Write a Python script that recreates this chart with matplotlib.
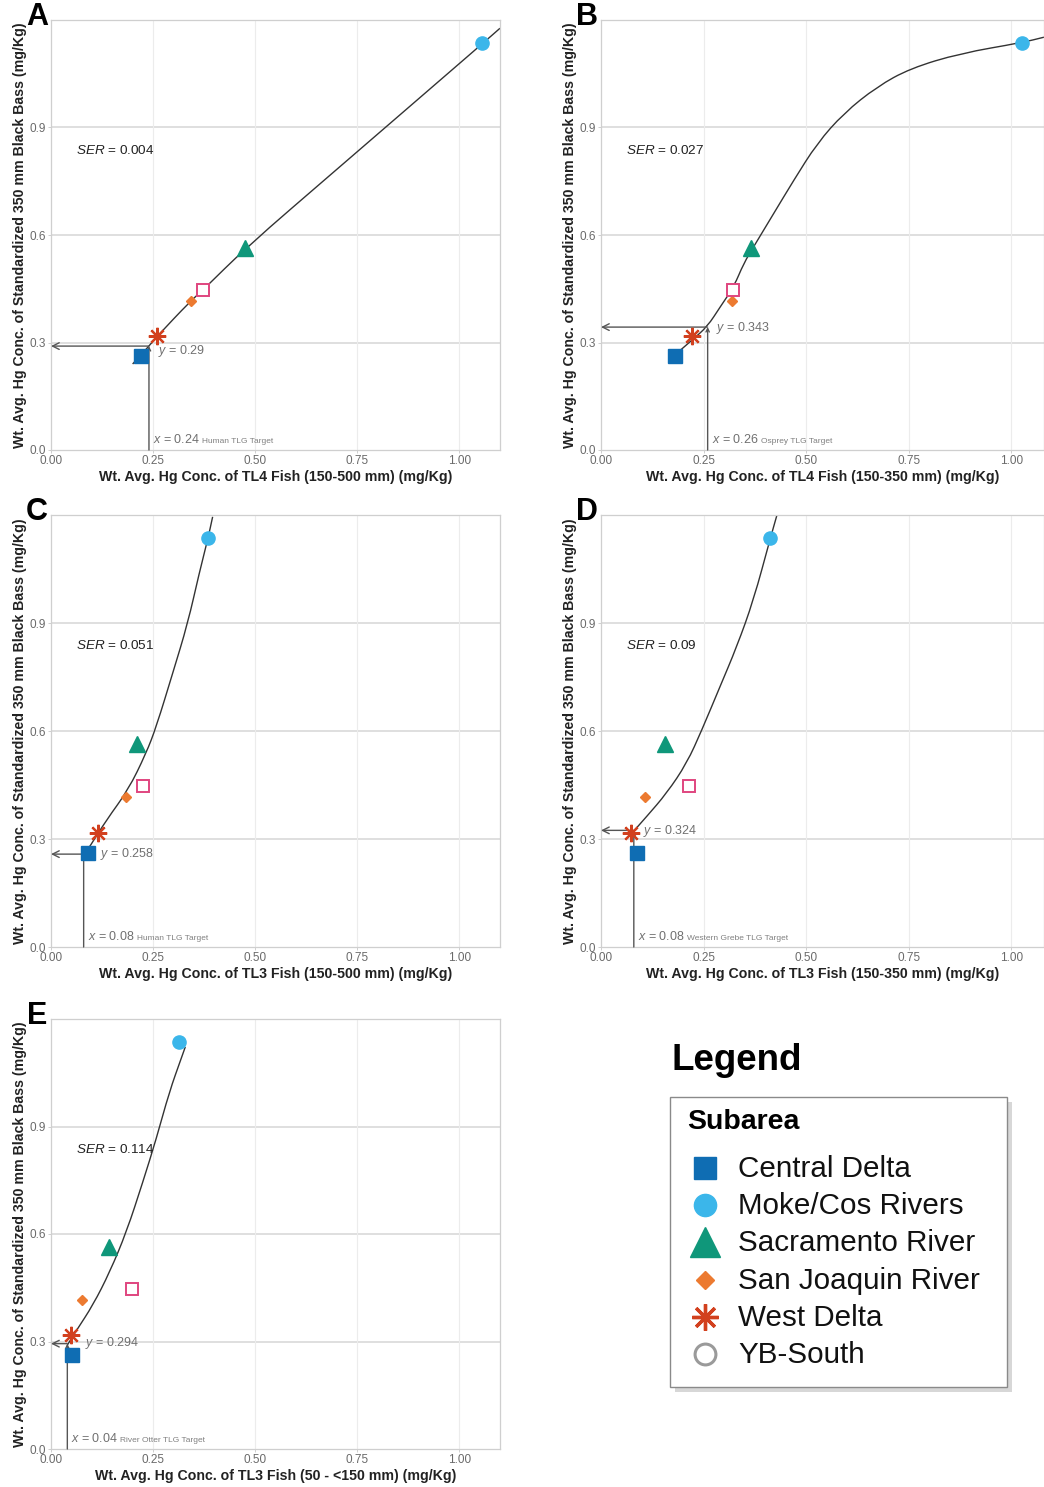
import numpy as np
import matplotlib
matplotlib.use("Agg")
import matplotlib.pyplot as plt
from matplotlib.patches import Rectangle, PathPatch
from matplotlib.path import Path

plt.rcParams['font.family'] = ['Liberation Sans', 'DejaVu Sans']
plt.rcParams['mathtext.fontset'] = 'custom'
plt.rcParams['mathtext.rm'] = 'Liberation Sans'
plt.rcParams['mathtext.it'] = 'Liberation Sans:italic'

# ---- data ----
subareas = ["Central Delta", "Moke/Cos Rivers", "Sacramento River",
            "San Joaquin River", "West Delta", "YB-South"]
bass_y = [0.262, 1.135, 0.563, 0.416, 0.318, 0.447]

x_A = [0.221, 1.056, 0.475, 0.343, 0.260, 0.372]
x_B = [0.181, 1.027, 0.366, 0.319, 0.223, 0.323]
x_C = [0.091, 0.384, 0.211, 0.183, 0.115, 0.225]
x_D = [0.087, 0.412, 0.156, 0.107, 0.073, 0.214]
x_E = [0.052, 0.313, 0.141, 0.077, 0.050, 0.198]

fit_A_x = [0.200, 0.240, 0.259, 0.342, 0.373, 0.476, 0.700, 1.058, 1.100]
fit_A_y = [0.240, 0.290, 0.316, 0.416, 0.447, 0.563, 0.783, 1.135, 1.177]
fit_B_x = [0.185, 0.222, 0.259, 0.291, 0.324, 0.348, 0.372, 0.421, 0.470,
           0.527, 0.592, 0.673, 0.754, 0.876, 1.027, 1.080]
fit_B_y = [0.270, 0.307, 0.344, 0.400, 0.456, 0.521, 0.567, 0.660, 0.753,
           0.856, 0.940, 1.014, 1.065, 1.107, 1.137, 1.152]
fit_C_x = [0.080, 0.095, 0.136, 0.189, 0.233, 0.258, 0.298, 0.335, 0.363, 0.384, 0.396]
fit_C_y = [0.255, 0.279, 0.353, 0.436, 0.538, 0.612, 0.760, 0.899, 1.038, 1.132, 1.195]
fit_D_x = [0.075, 0.111, 0.160, 0.209, 0.246, 0.290, 0.331, 0.372, 0.412, 0.429]
fit_D_y = [0.316, 0.362, 0.427, 0.510, 0.603, 0.723, 0.834, 0.964, 1.132, 1.200]
fit_E_x = [0.040, 0.063, 0.103, 0.144, 0.185, 0.225, 0.258, 0.290, 0.319, 0.329]
fit_E_y = [0.290, 0.332, 0.402, 0.494, 0.606, 0.745, 0.866, 0.997, 1.090, 1.122]

target_x = [0.24, 0.26, 0.08, 0.08, 0.04]
target_y = [0.29, 0.343, 0.258, 0.324, 0.294]
target_names = ["Human TLG Target", "Osprey TLG Target", "Human TLG Target",
                "Western Grebe TLG Target", "River Otter TLG Target"]
ser_values = ["0.004", "0.027", "0.051", "0.09", "0.114"]
panel_letters = ["A", "B", "C", "D", "E"]
x_labels = [
    "Wt. Avg. Hg Conc. of TL4 Fish (150-500 mm) (mg/Kg)",
    "Wt. Avg. Hg Conc. of TL4 Fish (150-350 mm) (mg/Kg)",
    "Wt. Avg. Hg Conc. of TL3 Fish (150-500 mm) (mg/Kg)",
    "Wt. Avg. Hg Conc. of TL3 Fish (150-350 mm) (mg/Kg)",
    "Wt. Avg. Hg Conc. of TL3 Fish (50 - <150 mm) (mg/Kg)",
]
y_label = "Wt. Avg. Hg Conc. of Standardized 350 mm Black Bass (mg/Kg)"
x_ticks = [0.0, 0.25, 0.5, 0.75, 1.0]
y_ticks = [0.0, 0.3, 0.6, 0.9]

# ---- styling ----
colors = ["#0F6DB3", "#3BB6EA", "#0F977A", "#EC7A30", "#D2401E", "#E0457F"]
legend_colors = ["#0F6DB3", "#3BB6EA", "#0F977A", "#EC7A30", "#D2401E", "#9A9A9A"]
markers = ["s", "o", "^", "D", (8, 2, 0), "s"]
msizes = [9.5, 9.5, 11, 5, 12.5, 8.5]


def smooth_curve(ax, xs, ys, **kw):
    # quadratic bezier through segment midpoints, drawn in data coords
    pts = list(zip(xs, ys))
    if len(pts) < 3:
        verts, codes = pts, [Path.MOVETO, Path.LINETO]
    else:
        verts = [pts[0]]
        codes = [Path.MOVETO]
        verts.append(((pts[0][0] + pts[1][0]) / 2, (pts[0][1] + pts[1][1]) / 2))
        codes.append(Path.LINETO)
        for j in range(1, len(pts) - 1):
            mid = ((pts[j][0] + pts[j + 1][0]) / 2, (pts[j][1] + pts[j + 1][1]) / 2)
            verts += [pts[j], mid]
            codes += [Path.CURVE3, Path.CURVE3]
        verts.append(pts[-1])
        codes.append(Path.LINETO)
    ax.add_patch(PathPatch(Path(verts, codes), fill=False, **kw))


W, H = 1044, 1487
fig = plt.figure(figsize=(W / 100, H / 100), dpi=100)

# panel boxes in pixels: left, top, width, height, xmax
boxes = [
    (51, 20, 449, 430, 1.10),
    (601, 20, 443, 430, 1.08),
    (51, 515, 449, 432, 1.10),
    (601, 515, 443, 432, 1.08),
    (51, 1019, 449, 430, 1.10),
]
# offsets for the "y =" text (dx, dy)
ytext_off = [(0.022, -0.014), (0.020, -0.002), (0.040, 0.0), (0.023, -0.002), (0.043, 0.001)]

panel_x = [x_A, x_B, x_C, x_D, x_E]
fits = [(fit_A_x, fit_A_y), (fit_B_x, fit_B_y), (fit_C_x, fit_C_y),
        (fit_D_x, fit_D_y), (fit_E_x, fit_E_y)]

for i, (l, t, w, h, xmax) in enumerate(boxes):
    ax = fig.add_axes([l / W, 1 - (t + h) / H, w / W, h / H])
    ax.set_xlim(0, xmax)
    ax.set_ylim(0, 1.2)
    ax.set_xticks(x_ticks)
    ax.set_xticklabels(["%.2f" % v for v in x_ticks])
    ax.set_yticks(y_ticks)
    ax.set_yticklabels(["%.1f" % v for v in y_ticks])
    ax.tick_params(labelsize=8.5, labelcolor="#6a6a6a", color="#c8c8c8", length=2.5, width=0.6, pad=1)
    for s in ax.spines.values():
        s.set_color("#cfcfcf")
        s.set_linewidth(0.9)
    for yv in y_ticks[1:]:
        ax.axhline(yv, color="#dcdcdc", lw=1.3, zorder=0)
    for xv in x_ticks[1:]:
        ax.axvline(xv, color="#ececec", lw=0.8, zorder=0)

    ax.set_xlabel(x_labels[i], fontsize=10.2, fontweight="bold", color="#222222", labelpad=2)
    ax.set_ylabel(y_label, fontsize=10.2, fontweight="bold", color="#222222", labelpad=2)

    # fitted curve
    fx, fy = fits[i]
    smooth_curve(ax, fx, fy, edgecolor="#333333", lw=1.0, zorder=2)

    # target lines
    tx, ty = target_x[i], target_y[i]
    ax.annotate("", xy=(tx, ty), xytext=(tx, 0),
                arrowprops=dict(arrowstyle="->", color="#555555", lw=1.0,
                                shrinkA=0, shrinkB=0, mutation_scale=6), zorder=3)
    ax.annotate("", xy=(0, ty), xytext=(tx, ty),
                arrowprops=dict(arrowstyle="->", color="#555555", lw=1.0,
                                shrinkA=0, shrinkB=0, mutation_scale=12), zorder=3)

    # points
    for k in range(len(subareas)):
        if k == 5:
            ax.plot(panel_x[i][k], bass_y[k], marker=markers[k], ms=msizes[k],
                    mfc="white", mec=colors[k], mew=1.4, ls="none", zorder=4)
        elif k == 4:
            ax.plot(panel_x[i][k], bass_y[k], marker=markers[k], ms=msizes[k],
                    mec=colors[k], mew=1.6, ls="none", zorder=5)
        else:
            ax.plot(panel_x[i][k], bass_y[k], marker=markers[k], ms=msizes[k],
                    color=colors[k], mec=colors[k], ls="none", zorder=4)

    # texts
    dx, dy = ytext_off[i]
    ax.text(tx + dx, ty + dy, "$y$ = %s" % target_y[i], fontsize=9, color="#707070",
            ha="left", va="center", zorder=6)
    xt = ax.text(tx + 0.01, 0.03, "$x$ = %s" % target_x[i], fontsize=9, color="#707070",
                 ha="left", va="center", zorder=6)
    ax.annotate(target_names[i], xy=(1, 0), xycoords=xt, xytext=(1.5, 0.5),
                textcoords="offset points", fontsize=6, color="#808080",
                ha="left", va="bottom")
    ax.text(0.062, 0.837, "$SER$ = %s" % ser_values[i], fontsize=9.7, color="#222222",
            ha="left", va="center")

    fig.text((l - 14) / W, 1 - (t - 3) / H, panel_letters[i], fontsize=22,
             fontweight="bold", ha="center", va="center", color="black")

# ---- legend ----
fig.text(672 / W, 1 - 1060 / H, "Legend", fontsize=26.5, fontweight="bold",
         ha="left", va="center")
lax = fig.add_axes([665 / W, 1 - 1395 / H, 350 / W, 303 / H])
lax.set_xlim(665, 1015)
lax.set_ylim(1395, 1092)
lax.axis("off")
lax.add_patch(Rectangle((675, 1102), 337, 290, facecolor="#bdbdbd", edgecolor="none", alpha=0.6))
lax.add_patch(Rectangle((670, 1097), 337, 290, facecolor="white", edgecolor="#8a8a8a", lw=1.0))
lax.text(687, 1122, "Subarea", fontsize=20.5, fontweight="bold", ha="left", va="center")
leg_ms = [16, 16, 21, 9.5, 19, 15]
for k, name in enumerate(subareas):
    yy = 1168 + k * 37.2
    if k == 5:
        lax.plot(705, yy, marker="o", ms=leg_ms[k], mfc="white", mec=legend_colors[k],
                 mew=2.2, ls="none")
    elif k == 4:
        lax.plot(705, yy, marker=markers[k], ms=leg_ms[k], mec=legend_colors[k],
                 mew=2.4, ls="none")
    else:
        lax.plot(705, yy, marker=markers[k], ms=leg_ms[k], color=legend_colors[k],
                 ls="none")
    lax.text(738, yy + 1, name, fontsize=21.3, ha="left", va="center", color="#111111")

fig.savefig("out.png", dpi=100, facecolor="white")
